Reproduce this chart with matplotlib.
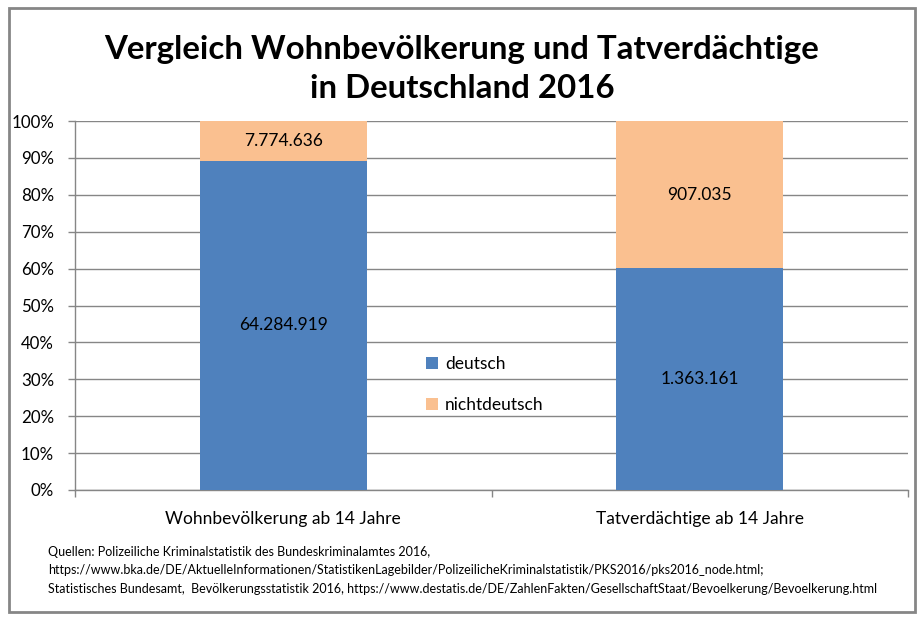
import matplotlib
matplotlib.use("Agg")
import matplotlib.pyplot as plt
from matplotlib.patches import Rectangle
import numpy as np

categories = ["Wohnbevölkerung ab 14 Jahre", "Tatverdächtige ab 14 Jahre"]
deutsch = [64284919, 1363161]
nichtdeutsch = [7774636, 907035]
series_names = ["deutsch", "nichtdeutsch"]
ytick_labels = ["0%", "10%", "20%", "30%", "40%", "50%", "60%", "70%", "80%", "90%", "100%"]
title = "Vergleich Wohnbevölkerung und Tatverdächtige\nin Deutschland 2016"
source = ("Quellen: Polizeiliche Kriminalstatistik des Bundeskriminalamtes 2016,\n"
          "https://www.bka.de/DE/AktuelleInformationen/StatistikenLagebilder/PolizeilicheKriminalstatistik/PKS2016/pks2016_node.html;\n"
          "Statistisches Bundesamt,  Bevölkerungsstatistik 2016, https://www.destatis.de/DE/ZahlenFakten/GesellschaftStaat/Bevoelkerung/Bevoelkerung.html")

plt.rcParams['font.family'] = ['Lato', 'DejaVu Sans']

BLUE = "#4F81BD"
ORANGE = "#FAC090"
GRAY = "#868686"

W, H = 923, 619
fig = plt.figure(figsize=(W / 100, H / 100), dpi=100)
ax = fig.add_axes([75 / W, 1 - 490 / H, (908 - 75) / W, (490 - 121) / H])

d = np.array(deutsch, dtype=float)
n = np.array(nichtdeutsch, dtype=float)
tot = d + n
dp = d / tot
np_ = n / tot
x = np.arange(len(categories))

ax.bar(x, dp, width=0.4, color=BLUE, label=series_names[0], zorder=3)
ax.bar(x, np_, bottom=dp, width=0.4, color=ORANGE, label=series_names[1], zorder=3)

def fmt(v):
    return f"{v:,}".replace(",", ".")

for i in range(len(x)):
    ax.text(x[i], dp[i] / 2, fmt(deutsch[i]), ha="center", va="center", fontsize=12.5, zorder=4)
    ax.text(x[i], dp[i] + np_[i] / 2, fmt(nichtdeutsch[i]), ha="center", va="center", fontsize=12.5, zorder=4)

ax.set_xlim(-0.5, 1.5)
ax.set_ylim(0, 1)
ax.set_yticks(np.linspace(0, 1, 11))
ax.set_yticklabels(ytick_labels, fontsize=12.2)
ax.set_xticks(x)
ax.set_xticklabels(categories, fontsize=12.5)
ax.tick_params(axis="x", which="major", length=0, pad=15)
ax.set_xticks([-0.5, 0.5, 1.5], minor=True)
ax.tick_params(axis="x", which="minor", length=5, color=GRAY, width=1)
ax.tick_params(axis="y", length=5, color=GRAY, width=1, pad=10)
ax.yaxis.grid(True, color=GRAY, linewidth=1, zorder=0)
ax.set_axisbelow(True)
for s in ["top", "right"]:
    ax.spines[s].set_visible(False)
for s in ["left", "bottom"]:
    ax.spines[s].set_color(GRAY)
    ax.spines[s].set_linewidth(1)

ax.legend(loc="center", bbox_to_anchor=(0.492, 0.286), frameon=False, fontsize=12.5,
          handlelength=0.7, handleheight=0.7, handletextpad=0.4, labelspacing=1.45)

fig.text(462 / W, 1 - 69 / H, title, ha="center", va="center", fontsize=23.8, fontweight="bold",
         linespacing=1.42)
fig.text(48 / W, 1 - 546 / H, source, ha="left", va="top", fontsize=9.0, linespacing=1.65)

fig.patches.append(Rectangle((9 / W, 1 - 612 / H), (915 - 9) / W, (612 - 8) / H,
                             transform=fig.transFigure, fill=False, edgecolor=GRAY, linewidth=2))

fig.savefig("out.png", dpi=100)
